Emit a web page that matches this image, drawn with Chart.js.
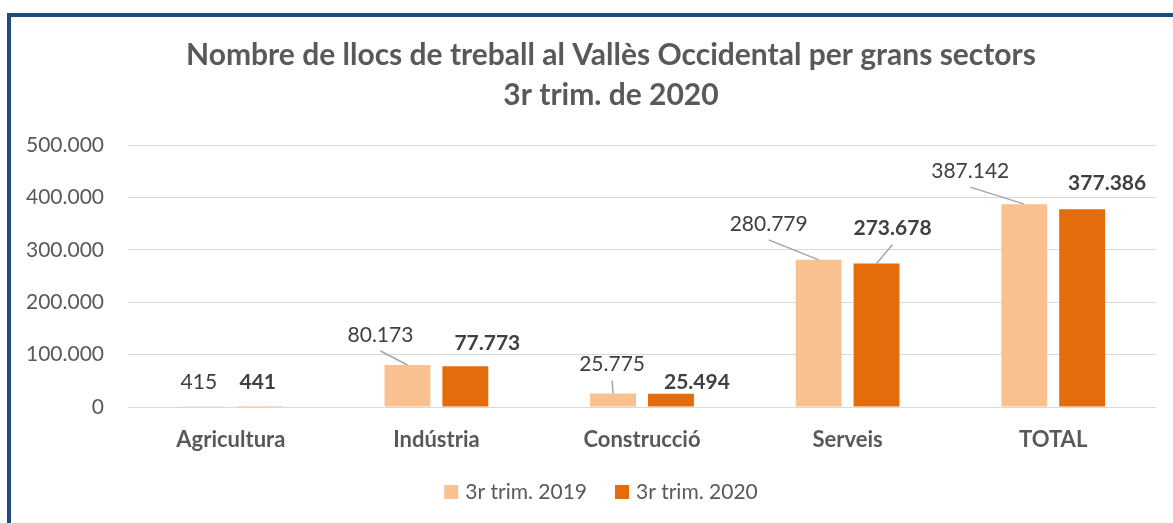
<!DOCTYPE html>
<html lang="ca">
<head>
<meta charset="UTF-8">
<title>Llocs de treball al Vallès Occidental</title>
<script src="https://cdn.jsdelivr.net/npm/chart.js"></script>
<style>
  body { margin: 0; background: #fff; }
  #wrap { position: relative; width: 1173px; height: 523px; overflow: hidden; }
  #grafic { position: absolute; left: 0; top: 0; }
  .vora { position: absolute; background: #1F4A7E; }
</style>
</head>
<body>
<div id="wrap">
  <canvas id="grafic" width="1173" height="523"></canvas>
  <div class="vora" style="left:7px; top:13px; width:1166px; height:4px;"></div>
  <div class="vora" style="left:7px; top:13px; width:4px; height:510px;"></div>
</div>

<script>
// Dades
const sectors = ['Agricultura', 'Indústria', 'Construcció', 'Serveis', 'TOTAL'];
const trim2019 = [415, 80173, 25775, 280779, 387142];
const trim2020 = [441, 77773, 25494, 273678, 377386];
const series = ['3r trim. 2019', '3r trim. 2020'];
const yTicks = [0, 100000, 200000, 300000, 400000, 500000];
const titol = ['Nombre de llocs de treball al Vallès Occidental per grans sectors', '3r trim. de 2020'];

// posició de les etiquetes respecte al cim de cada barra (px) i línia guia
const etiqDx = [[-3, -27, -1, -50, -54], [-2, 22, 26, 16, 25]];
const etiqDy = [[-25, -30, -29, -36, -33], [-25, -23, -11, -35, -26]];
const guia = [[false, true, true, true, true], [false, false, false, true, false]];

const FONT = 'Lato, "Open Sans", sans-serif';

function punts(v) {
    return String(v).replace(/\B(?=(\d{3})+(?!\d))/g, '.');
}

// títol (centrat com a l'original, una mica a la dreta del centre del llenç)
const titolPlugin = {
    id: 'titol',
    afterDraw(chart) {
        const ctx = chart.ctx;
        ctx.save();
        ctx.fillStyle = '#595959';
        ctx.font = 'bold 30px ' + FONT;
        ctx.textAlign = 'center';
        ctx.textBaseline = 'middle';
        ctx.fillText(titol[0], 611, 55);
        ctx.fillText(titol[1], 611, 95);
        ctx.restore();
    }
};

// llegenda a sota, centrada a x=601
const llegenda = {
    id: 'llegenda',
    afterDraw(chart) {
        const ctx = chart.ctx;
        const box = 14, gap = 7, sep = 28, cy = 492;
        ctx.save();
        ctx.font = '21px ' + FONT;
        ctx.textBaseline = 'middle';
        ctx.textAlign = 'left';
        const amples = chart.data.datasets.map(ds => box + gap + ctx.measureText(ds.label).width);
        const total = amples.reduce((a, b) => a + b, 0) + sep * (amples.length - 1);
        let x = 601 - total / 2;
        chart.data.datasets.forEach((ds, d) => {
            ctx.fillStyle = ds.backgroundColor;
            ctx.fillRect(x, cy - box / 2, box, box);
            ctx.fillStyle = '#595959';
            ctx.fillText(ds.label, x + box + gap, cy);
            x += amples[d] + sep;
        });
        ctx.restore();
    }
};

// etiquetes de dades amb línies guia
const etiquetes = {
    id: 'etiquetes',
    afterDatasetsDraw(chart) {
        const ctx = chart.ctx;
        chart.data.datasets.forEach((ds, d) => {
            const meta = chart.getDatasetMeta(d);
            meta.data.forEach((bar, i) => {
                const lx = bar.x + etiqDx[d][i];
                const ly = bar.y + etiqDy[d][i];
                ctx.save();
                if (guia[d][i]) {
                    ctx.strokeStyle = '#A6A6A6';
                    ctx.lineWidth = 1.5;
                    ctx.beginPath();
                    ctx.moveTo(lx, ly + 16);
                    ctx.lineTo(bar.x, bar.y);
                    ctx.stroke();
                }
                ctx.fillStyle = '#404040';
                ctx.font = (d === 1 ? 'bold ' : '') + '21px ' + FONT;
                ctx.textAlign = 'center';
                ctx.textBaseline = 'middle';
                ctx.fillText(punts(ds.data[i]), lx, ly);
                ctx.restore();
            });
        });
    }
};

new Chart(document.getElementById('grafic'), {
    type: 'bar',
    data: {
        labels: sectors,
        datasets: [
            { label: series[0], data: trim2019, backgroundColor: '#F9C190' },
            { label: series[1], data: trim2020, backgroundColor: '#E46C0A' }
        ]
    },
    options: {
        responsive: false,
        animation: false,
        devicePixelRatio: 1,
        categoryPercentage: 0.563,
        barPercentage: 0.793,
        layout: { padding: { left: 0, right: 17, top: 145, bottom: 51 } },
        scales: {
            x: {
                grid: { display: false },
                border: { display: false },
                ticks: {
                    color: '#595959',
                    font: { family: FONT, size: 22, weight: 'bold' },
                    padding: 12
                },
                afterFit(scale) { scale.height = 65; }
            },
            y: {
                min: 0,
                max: 500000,
                afterBuildTicks(scale) { scale.ticks = yTicks.map(v => ({ value: v })); },
                grid: { color: '#D9D9D9', lineWidth: 1, drawTicks: false },
                border: { display: false },
                ticks: {
                    color: '#595959',
                    font: { family: FONT, size: 21 },
                    padding: 24,
                    callback: v => punts(v)
                },
                afterFit(scale) { scale.width = 128; }
            }
        },
        plugins: {
            tooltip: { enabled: false },
            title: { display: false },
            legend: { display: false }
        }
    },
    plugins: [etiquetes, titolPlugin, llegenda]
});
</script>
</body>
</html>
